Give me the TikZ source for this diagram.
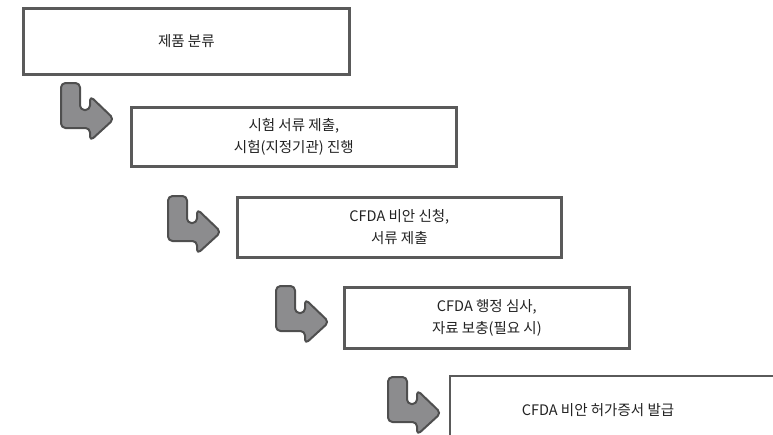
\documentclass[tikz,border=0pt]{standalone}
\usepackage{fontspec}
\newfontfamily\kr{Noto Sans CJK KR}
\definecolor{linegray}{HTML}{5A5A5A}
\definecolor{arrowfill}{HTML}{8C8C8E}
\definecolor{arrowline}{HTML}{4F4F4F}
\definecolor{txt}{HTML}{222222}
\begin{document}
\begin{tikzpicture}[x=1pt,y=-1pt,
  box/.style={draw=linegray, line width=2.7pt, fill=white, inner sep=0pt, anchor=north west},
  label/.style={text=txt, font=\kr\fontsize{14.5}{22}\selectfont, align=center, inner sep=0pt},
  bent/.pic={\draw[fill=arrowfill, draw=arrowline, line width=2pt, rounded corners=4.5pt, line join=round]
     (9.5,0) -- (19,0) -- (19,27) -- (29,27) -- (29,13) -- (53,36) -- (29,58) -- (29,45) -- (0,45) -- (0,0) -- cycle;}]
\useasboundingbox (0,0) rectangle (773,434);
\clip (0,0) rectangle (773,434);
\node[box, minimum width=326pt, minimum height=66pt] (b1) at (22,7) {};
\node[label] (t1) at (b1.center) {제품 분류};
\node[box, minimum width=325pt, minimum height=59pt] (b2) at (130,106) {};
\node[label] (t2) at (b2.center) {시험 서류 제출,\\시험(지정기관) 진행};
\node[box, minimum width=324pt, minimum height=60pt] (b3) at (236,196) {};
\node[label] (t3) at (b3.center) {CFDA 비안 신청,\\서류 제출};
\node[box, minimum width=285pt, minimum height=61pt] (b4) at (343,286) {};
\node[label] (t4) at (b4.center) {CFDA 행정 심사,\\자료 보충(필요 시)};
\coordinate (b5ne) at (790,376);
\coordinate (b5sw) at (450,450);
\draw[draw=linegray, line width=2.7pt] (b5ne) -| (b5sw);
\node[label] (t5) at (598,410) {CFDA 비안 허가증서 발급};
\pic (a1) at (61,83) {bent};
\pic (a2) at (168,196) {bent};
\pic (a3) at (276,286) {bent};
\pic (a4) at (388,377) {bent};
\end{tikzpicture}
\end{document}
